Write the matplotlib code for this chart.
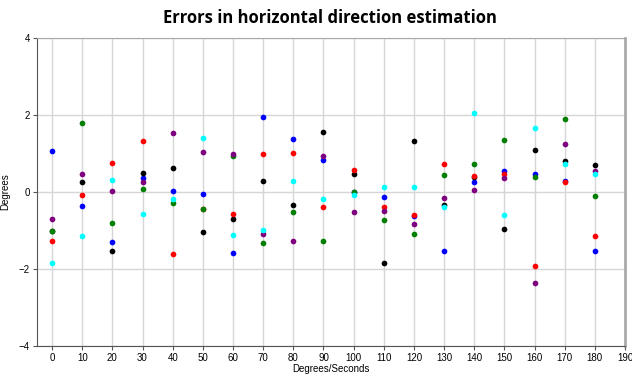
import matplotlib
matplotlib.use('Agg')
import matplotlib.pyplot as plt
import numpy as np

# ── Data (degrees of error per test angle) ────────────────────────────────────
angles = [0, 10, 20, 30, 40, 50, 60, 70, 80, 90, 100, 110, 120, 130, 140, 150, 160, 170, 180]

blue   = [1.07, -0.37, -1.31, 0.36, 0.03, -0.05, -1.58, 1.96, 1.38, 0.82, 0.00, -0.12, -0.62, -1.52, 0.27, 0.55, 0.48, 0.28, -1.52]
black  = [-1.00, 0.26, -1.53, 0.50, 0.62, -1.03, -0.70, 0.28, -0.33, 1.56, 0.46, -1.84, 1.32, -0.33, 0.40, -0.97, 1.10, 0.81, 0.69]
red    = [-1.26, -0.07, 0.75, 1.32, -1.60, -0.43, -0.56, 0.98, 1.01, -0.39, 0.58, -0.40, -0.59, 0.74, 0.42, 0.48, -1.91, 0.27, -1.14]
green  = [-1.00, 1.80, -0.81, 0.07, -0.28, -0.43, 0.93, -1.32, -0.53, -1.28, 0.00, -0.72, -1.09, 0.44, 0.73, 1.36, 0.38, 1.89, -0.10]
purple = [-0.71, 0.47, 0.03, 0.26, 1.54, 1.05, 0.98, -1.09, -1.26, 0.93, -0.52, -0.50, -0.84, -0.16, 0.05, 0.37, -2.37, 1.25, 0.55]
cyan   = [-1.84, -1.14, 0.30, -0.56, -0.17, 1.39, -1.12, -0.99, 0.28, -0.18, -0.07, 0.13, 0.13, -0.39, 2.04, -0.61, 1.66, 0.73, 0.46]

series = [(blue, '#0000ff'), (black, '#000000'), (red, '#ff0000'),
          (green, '#007f00'), (purple, '#7f007f'), (cyan, '#00ffff')]

x_ticks = list(range(0, 200, 10))
y_ticks = [-4, -2, 0, 2, 4]

# ── Plot ──────────────────────────────────────────────────────────────────────
narrow = ['Liberation Sans Narrow', 'Liberation Sans', 'DejaVu Sans']

fig = plt.figure(figsize=(6.32, 3.76), dpi=100)
ax = fig.add_axes([37 / 632, 30 / 376, 588 / 632, 308 / 376])

for vals, col in series:
    ax.plot(angles, vals, 'o', color=col, markersize=4.1, markeredgewidth=0, zorder=3)

ax.set_xlim(-5, 190)
ax.set_ylim(-4, 4)
ax.set_xticks(x_ticks)
ax.set_yticks(y_ticks)
ax.grid(color='#d6d6d6', linewidth=1.0, zorder=0)
ax.set_axisbelow(True)

for lab in ax.get_xticklabels() + ax.get_yticklabels():
    lab.set_family(narrow)
    lab.set_fontsize(7)
ax.tick_params(length=3, width=0.8, color='#555555', pad=2)

for side in ['left', 'bottom']:
    ax.spines[side].set_color('#555555')
    ax.spines[side].set_linewidth(0.8)
ax.spines['top'].set_color('#aaaaaa')
ax.spines['right'].set_color('#aaaaaa')
ax.spines['right'].set_linewidth(2)

ax.set_xlabel('Degrees/Seconds', family=narrow, fontsize=7, labelpad=1)
ax.set_ylabel('Degrees', family=narrow, fontsize=7, labelpad=6)
fig.text(0.522, 0.953, 'Errors in horizontal direction estimation',
         ha='center', va='center', fontsize=12, fontweight='bold', family=['Open Sans', 'DejaVu Sans'])

plt.savefig('out.png', dpi=100)
plt.close()
